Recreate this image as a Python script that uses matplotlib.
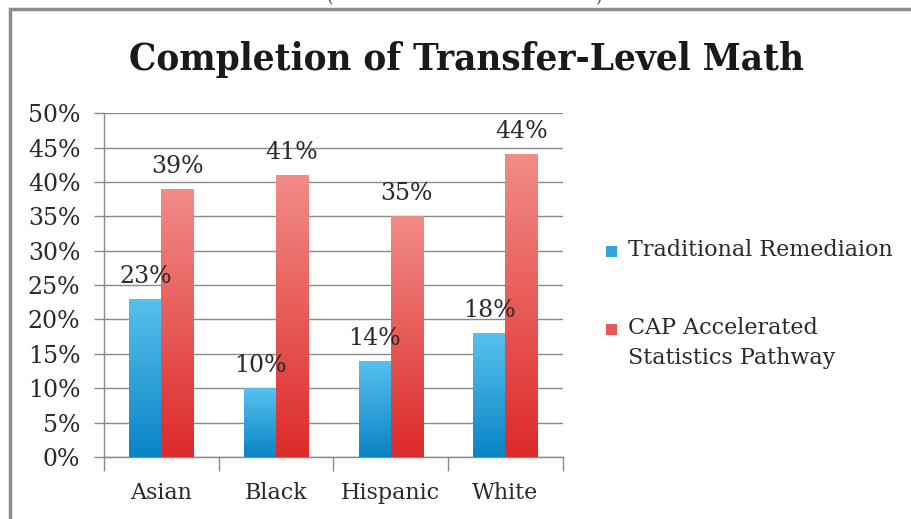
"""
Completion of transfer-level math, traditional vs CAP pathway
"""

import numpy as np
import matplotlib
matplotlib.use("Agg")
import matplotlib.pyplot as plt
from matplotlib.patches import Rectangle
from matplotlib.colors import LinearSegmentedColormap
from matplotlib.ticker import MultipleLocator, FuncFormatter

categories = ["Asian", "Black", "Hispanic", "White"]
traditional = [23, 10, 14, 18]
cap = [39, 41, 35, 44]
series_labels = ["Traditional Remediaion", "CAP Accelerated\nStatistics Pathway"]

plt.rcParams['font.family'] = ['DejaVu Serif']

blue_cmap = LinearSegmentedColormap.from_list("blue", ["#0a84c6", "#58c1ee"])
red_cmap = LinearSegmentedColormap.from_list("red", ["#dd2a2b", "#f28c86"])


def gradient_bars(ax, bars, cmap):
    """fill each bar with a vertical gradient"""
    grad = np.linspace(0, 1, 256).reshape(-1, 1)
    for b in bars:
        x0, y0 = b.get_x(), b.get_y()
        w, h = b.get_width(), b.get_height()
        im = ax.imshow(grad, cmap=cmap, origin='lower', aspect='auto',
                       extent=(x0, x0 + w, y0, y0 + h), zorder=3)
        im.set_clip_path(b)


fig = plt.figure(figsize=(9.12, 5.19), dpi=100)
ax = fig.add_axes([0.114, 0.1195, 0.503, 0.6625])

x = np.arange(len(categories))
w = 0.28
b1 = ax.bar(x - w / 2, traditional, w, color="#2ea3dc", zorder=2, linewidth=0)
b2 = ax.bar(x + w / 2, cap, w, color="#e85a58", zorder=2, linewidth=0)
gradient_bars(ax, b1, blue_cmap)
gradient_bars(ax, b2, red_cmap)

for bars, vals in [(b1, traditional), (b2, cap)]:
    for b, v in zip(bars, vals):
        ax.annotate("%d%%" % v, (b.get_x() + b.get_width() / 2, v),
                    xytext=(0, 8), textcoords="offset points",
                    ha="center", va="bottom", fontsize=17, color="#2a2a2a", zorder=5)

ax.set_xlim(-0.5, len(categories) - 0.5)
ax.set_ylim(0, 50)
ax.yaxis.set_major_locator(MultipleLocator(5))
ax.yaxis.set_major_formatter(FuncFormatter(lambda v, p: "%d%%" % v))
ax.grid(axis='y', color="#8a8a8a", linewidth=1.0, zorder=0)
ax.set_axisbelow(True)

ax.set_xticks(x)
ax.set_xticklabels(categories)
ax.set_xticks(np.arange(-0.5, len(categories)), minor=True)
ax.tick_params(axis='x', which='major', length=0, pad=18, labelsize=16, colors="#2a2a2a")
ax.tick_params(axis='x', which='minor', length=10, width=1, color="#8a8a8a")
ax.tick_params(axis='y', length=7, width=1, color="#8a8a8a", labelsize=17, labelcolor="#2a2a2a", pad=10)

for s in ['top', 'right']:
    ax.spines[s].set_visible(False)
for s in ['left', 'bottom']:
    ax.spines[s].set_color("#8a8a8a")
    ax.spines[s].set_linewidth(1.0)

fig.text(0.512, 0.885, "Completion of Transfer-Level Math", ha="center", va="center",
         fontsize=27.5, fontweight="bold", fontstretch="condensed", color="#1a1a1a")

# cut-off caption above the frame
fig.text(0.51, 1.005, "(                                                  )", ha="center", va="center",
         fontsize=12, color="#444444")

# gray frame round the chart
fig.patches.append(Rectangle((10 / 912, -0.1), 1.2, 1.0 - 9 / 519 + 0.1, transform=fig.transFigure,
                             fill=False, edgecolor="#8c8c8c", linewidth=2.5))

# legend, drawn by hand so the square sits by the first line
legend_colors = ["#2ea3dc", "#e85a58"]
legend_y = [252, 330]
for lab, col, ly in zip(series_labels, legend_colors, legend_y):
    fig.patches.append(Rectangle((606 / 912, 1 - (ly + 5) / 519), 11 / 912, 11 / 519,
                                 transform=fig.transFigure, facecolor=col, edgecolor="none"))
    fig.text(628 / 912, 1 - (ly - 13) / 519, lab, ha="left", va="top", fontsize=16,
             linespacing=1.45, color="#2a2a2a")

plt.savefig("out.png", dpi=100)
